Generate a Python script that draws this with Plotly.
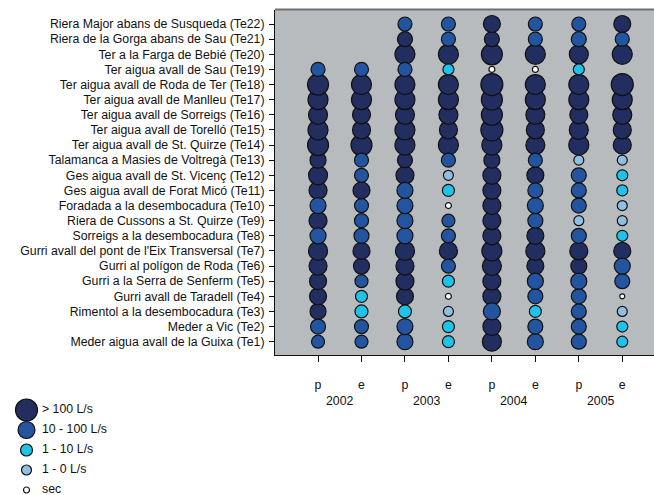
import plotly.graph_objects as go

# ---------------- data ----------------
stations = [
    "Meder aigua avall de la Guixa (Te1)",
    "Meder a Vic (Te2)",
    "Rimentol a la desembocadura (Te3)",
    "Gurri avall de Taradell (Te4)",
    "Gurri a la Serra de Senferm (Te5)",
    "Gurri al polígon de Roda (Te6)",
    "Gurri avall del pont de l'Eix Transversal (Te7)",
    "Sorreigs a la desembocadura (Te8)",
    "Riera de Cussons a St. Quirze (Te9)",
    "Foradada a la desembocadura (Te10)",
    "Ges aigua avall de Forat Micó (Te11)",
    "Ges aigua avall de St. Vicenç (Te12)",
    "Talamanca a Masies de Voltregà (Te13)",
    "Ter aigua avall de St. Quirze (Te14)",
    "Ter aigua avall de Torelló (Te15)",
    "Ter aigua avall de Sorreigs (Te16)",
    "Ter aigua avall de Manlleu (Te17)",
    "Ter aigua avall de Roda de Ter (Te18)",
    "Ter aigua avall de Sau (Te19)",
    "Ter a la Farga de Bebié (Te20)",
    "Riera de la Gorga abans de Sau (Te21)",
    "Riera Major abans de Susqueda (Te22)",
]
years = ["2002", "2002", "2003", "2003", "2004", "2004", "2005", "2005"]
periods = ["p", "e", "p", "e", "p", "e", "p", "e"]

# flow class per station (Te1 .. Te22) and campaign
# N: > 100 L/s, B: 10-100 L/s, C: 1-10 L/s, L: 1-0 L/s, W: sec, '-': no data
flow_class = [
    ["B", "B", "B", "C", "N", "B", "B", "C"],  # Te1
    ["B", "B", "B", "C", "N", "B", "B", "C"],  # Te2
    ["N", "C", "C", "L", "B", "C", "B", "L"],  # Te3
    ["N", "C", "N", "W", "N", "B", "B", "W"],  # Te4
    ["N", "B", "N", "C", "N", "B", "B", "B"],  # Te5
    ["N", "N", "N", "B", "N", "N", "N", "B"],  # Te6
    ["N", "N", "N", "N", "N", "N", "N", "N"],  # Te7
    ["B", "B", "B", "B", "N", "N", "B", "C"],  # Te8
    ["N", "B", "B", "B", "N", "B", "L", "L"],  # Te9
    ["B", "B", "B", "W", "N", "B", "B", "L"],  # Te10
    ["N", "N", "B", "C", "N", "B", "B", "C"],  # Te11
    ["N", "B", "N", "L", "N", "N", "B", "C"],  # Te12
    ["N", "B", "N", "B", "N", "B", "L", "L"],  # Te13
    ["N", "N", "N", "N", "N", "N", "N", "N"],  # Te14
    ["N", "N", "N", "N", "N", "N", "N", "N"],  # Te15
    ["N", "N", "N", "N", "N", "N", "N", "N"],  # Te16
    ["N", "N", "N", "N", "N", "N", "N", "N"],  # Te17
    ["N", "N", "N", "N", "N", "N", "N", "N"],  # Te18
    ["B", "B", "B", "C", "W", "W", "C", "-"],  # Te19
    ["-", "-", "N", "N", "N", "N", "N", "N"],  # Te20
    ["-", "-", "N", "B", "N", "B", "B", "B"],  # Te21
    ["-", "-", "B", "B", "N", "B", "B", "N"],  # Te22
]
# relative flow magnitude (bubble diameter) per station and campaign
magnitude = [
    [13, 13, 16, 12, 19, 16, 15, 11],  # Te1
    [15, 14, 16, 12, 18, 15, 15, 11],  # Te2
    [16, 13, 13, 10, 17, 12, 15, 10],  # Te3
    [17, 12, 17, 6, 18, 15, 15, 5],    # Te4
    [17, 13, 18, 12, 18, 16, 16, 15],  # Te5
    [18, 16, 18, 14, 19, 17, 16, 16],  # Te6
    [19, 17, 19, 18, 20, 19, 18, 17],  # Te7
    [16, 15, 16, 14, 18, 17, 15, 11],  # Te8
    [18, 14, 16, 13, 18, 15, 10, 10],  # Te9
    [16, 14, 16, 6, 18, 16, 15, 10],   # Te10
    [18, 17, 16, 12, 18, 15, 15, 11],  # Te11
    [19, 14, 18, 10, 18, 17, 15, 11],  # Te12
    [16, 14, 15, 14, 16, 14, 10, 10],  # Te13
    [21, 21, 20, 20, 20, 19, 20, 18],  # Te14
    [20, 18, 20, 18, 22, 18, 19, 18],  # Te15
    [19, 18, 19, 19, 21, 19, 18, 19],  # Te16
    [20, 20, 20, 20, 21, 20, 20, 20],  # Te17
    [21, 20, 20, 20, 22, 20, 20, 22],  # Te18
    [14, 14, 14, 11, 6, 6, 11, 0],     # Te19
    [0, 0, 20, 20, 21, 20, 19, 20],    # Te20
    [0, 0, 15, 14, 15, 14, 15, 14],    # Te21
    [0, 0, 14, 14, 17, 14, 14, 17],    # Te22
]

class_codes = ["N", "B", "C", "L", "W"]
class_labels = ["> 100 L/s", "10 - 100 L/s", "1 - 10 L/s", "1 - 0 L/s", "sec"]
legend_sizes = [22, 17, 12, 10, 6]

# ---------------- styles ----------------
colors = {"N": "#222d60", "B": "#2354a0", "C": "#1fc3ea", "L": "#90bfe4", "W": "#ffffff"}
FONT = "Liberation Sans, Arial, sans-serif"
FS = 12.3
W, H = 654, 495
plot_left, plot_right, plot_top, plot_bottom = 275, 654, 9.5, 355

campaigns = [f"{y} {p}" for y, p in zip(years, periods)]

fig = go.Figure()

for code in class_codes:
    xs, ys, ss = [], [], []
    for si, st in enumerate(stations):
        for ci, camp in enumerate(campaigns):
            if flow_class[si][ci] == code:
                xs.append(camp)
                ys.append(st)
                ss.append(magnitude[si][ci])
    fig.add_trace(go.Scatter(
        x=xs, y=ys, mode="markers", showlegend=False,
        marker=dict(size=ss, sizemode="diameter", color=colors[code],
                    line=dict(color="#111111", width=1.2), opacity=1),
        xaxis="x", yaxis="y",
    ))

# legend drawn in a small auxiliary axes
leg_idx = list(range(len(class_codes)))
fig.add_trace(go.Scatter(
    x=[26.5] * len(leg_idx), y=leg_idx, mode="markers", showlegend=False,
    marker=dict(size=legend_sizes, sizemode="diameter", opacity=1,
                color=[colors[c] for c in class_codes],
                line=dict(color="#111111", width=1.2)),
    xaxis="x2", yaxis="y2",
))
fig.add_trace(go.Scatter(
    x=[42] * len(leg_idx), y=leg_idx, mode="text", text=class_labels,
    textposition="middle right", showlegend=False,
    textfont=dict(family=FONT, size=FS, color="#111111"),
    xaxis="x2", yaxis="y2",
))

# year labels centred under each pair of campaigns
uniq_years = sorted(set(years))
for yv in uniq_years:
    idx = [i for i, v in enumerate(years) if v == yv]
    fig.add_annotation(x=sum(idx) / len(idx), y=1 - plot_bottom / H, xref="x", yref="paper",
                       text=yv, showarrow=False, yanchor="top", yshift=-37,
                       font=dict(family=FONT, size=FS, color="#111111"))

# plot area background and top border line
fig.add_shape(type="rect", xref="x domain", yref="y domain", x0=0, x1=1, y0=0, y1=1,
              fillcolor="#b8bbbe", line=dict(width=0), layer="below")
fig.add_shape(type="line", xref="paper", yref="paper",
              x0=plot_left / W, x1=1, y0=1 - plot_top / H, y1=1 - plot_top / H,
              line=dict(color="#6e7073", width=2))

ncols = len(campaigns)
nrows = len(stations)
fig.update_layout(
    width=W, height=H,
    margin=dict(l=0, r=0, t=0, b=0),
    paper_bgcolor="white",
    plot_bgcolor="rgba(0,0,0,0)",
    font=dict(family=FONT, size=FS, color="#111111"),
    xaxis=dict(
        domain=[plot_left / W, 1],
        type="category", categoryorder="array", categoryarray=campaigns,
        tickmode="array", tickvals=campaigns, ticktext=periods,
        range=[-0.99, ncols - 1 + 0.73],
        showgrid=False, zeroline=False,
        showline=True, linecolor="#111111", linewidth=1,
        ticks="outside", ticklen=6, tickcolor="#111111",
        ticklabelstandoff=12,
        tickfont=dict(family=FONT, size=FS, color="#111111"),
        automargin=False, fixedrange=True,
    ),
    yaxis=dict(
        domain=[1 - plot_bottom / H, 1 - plot_top / H],
        type="category", categoryorder="array", categoryarray=stations,
        range=[-0.88, nrows - 1 + 0.96],
        showgrid=False, zeroline=False,
        showline=True, linecolor="#111111", linewidth=1,
        ticks="outside", ticklen=5, tickcolor="#111111",
        ticklabelstandoff=2,
        tickfont=dict(family=FONT, size=FS, color="#111111"),
        automargin=False, fixedrange=True,
    ),
    xaxis2=dict(domain=[0, 0.3], range=[0, 0.3 * W], visible=False, fixedrange=True),
    yaxis2=dict(domain=[0, 100 / H], range=[4.25, -0.75], visible=False, fixedrange=True),
)

fig.write_html("out.html")
